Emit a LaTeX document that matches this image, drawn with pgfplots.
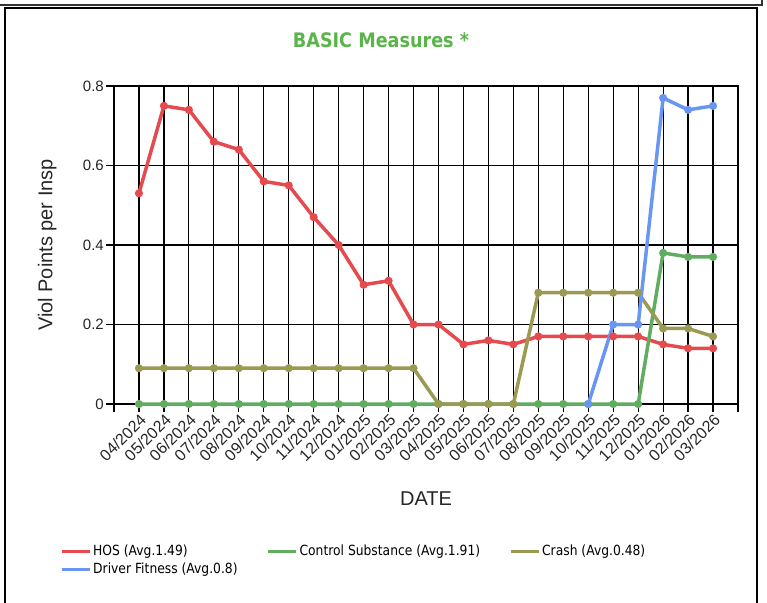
\documentclass[border=0pt]{standalone}
\usepackage{pgfplots}
\pgfplotsset{compat=1.18}
\usepackage{fontspec}
\setmainfont{Liberation Sans}
\newfontfamily\dvc[FakeStretch=0.88]{DejaVu Sans}
\definecolor{hos}{RGB}{229,75,78}
\definecolor{cs}{RGB}{96,172,96}
\definecolor{crash}{RGB}{155,154,82}
\definecolor{df}{RGB}{105,150,245}
\definecolor{tgreen}{RGB}{90,180,75}
\begin{document}
\begin{tikzpicture}
\useasboundingbox (0,0) rectangle (767pt,602pt);
\draw[line width=2pt, black!80] (0,596.5pt) -- (762pt,596.5pt) -- (762pt,603pt);
\draw[line width=1.5pt, black] (5pt,-10pt) -- (5pt,594pt) -- (757pt,594pt) -- (757pt,-10pt);
\node[text=tgreen, font=\dvc\bfseries\fontsize{20}{24}\selectfont] at (381pt,562pt) {BASIC Measures *};
\begin{axis}[
  at={(114pt,198pt)}, anchor=south west,
  scale only axis, width=624pt, height=318pt,
  xmin=-1, xmax=24, ymin=0, ymax=0.8,
  clip=false,
  xtick={-1,0,...,24},
  xticklabels={,04/2024,05/2024,06/2024,07/2024,08/2024,09/2024,10/2024,11/2024,12/2024,01/2025,02/2025,03/2025,04/2025,05/2025,06/2025,07/2025,08/2025,09/2025,10/2025,11/2025,12/2025,01/2026,02/2026,03/2026,},
  ytick={0,0.2,0.4,0.6,0.8},
  yticklabels={0,0.2,0.4,0.6,0.8},
  grid=major,
  major grid style={black, line width=1.2pt},
  axis line style={black, line width=1.2pt},
  tick style={black, line width=1.2pt},
  tick align=outside, major tick length=8pt,
  xtick pos=left, ytick pos=left,
  x tick label style={rotate=45, anchor=north east, font=\fontsize{16}{19}\selectfont, inner sep=0.5pt, text=black!85},
  y tick label style={font=\fontsize{15}{18}\selectfont, inner sep=2pt, text=black!85},
  ylabel={Viol Points per Insp},
  ylabel style={at={(axis description cs:-0.107,0.5)}, anchor=center, font=\fontsize{20}{24}\selectfont, text=black!85},
  xlabel={DATE},
  xlabel style={at={(axis description cs:0.5,-0.299)}, anchor=center, font=\fontsize{20}{24}\selectfont, text=black!85},
  legend columns=3,
  legend cell align=left,
  legend style={at={(axis description cs:-0.0865,-0.437)}, anchor=north west, draw=none, fill=none, inner sep=0pt,
    font=\dvc\fontsize{14}{17}\selectfont, text=black,
    /tikz/every even column/.append style={column sep=27pt}, row sep=2pt},
  legend image code/.code={\draw[#1, mark=none, line width=3pt] (0pt,0pt) -- (28pt,0pt);},
  every axis plot/.append style={line width=3.5pt, mark=*, mark size=2.2pt},
]
\addplot[color=hos, mark options={fill=hos}] table {
x y
0 0.53
1 0.75
2 0.74
3 0.66
4 0.64
5 0.56
6 0.55
7 0.47
8 0.40
9 0.30
10 0.31
11 0.20
12 0.20
13 0.15
14 0.16
15 0.15
16 0.17
17 0.17
18 0.17
19 0.17
20 0.17
21 0.15
22 0.14
23 0.14
};
\addlegendentry{HOS (Avg.1.49)}
\addplot[color=cs, mark options={fill=cs}] table {
x y
0 0
1 0
2 0
3 0
4 0
5 0
6 0
7 0
8 0
9 0
10 0
11 0
12 0
13 0
14 0
15 0
16 0
17 0
18 0
19 0
20 0
21 0.38
22 0.37
23 0.37
};
\addlegendentry{Control Substance (Avg.1.91)}
\addplot[color=crash, mark options={fill=crash}] table {
x y
0 0.09
1 0.09
2 0.09
3 0.09
4 0.09
5 0.09
6 0.09
7 0.09
8 0.09
9 0.09
10 0.09
11 0.09
12 0
13 0
14 0
15 0
16 0.28
17 0.28
18 0.28
19 0.28
20 0.28
21 0.19
22 0.19
23 0.17
};
\addlegendentry{Crash (Avg.0.48)}
\addplot[color=df, mark options={fill=df}] table {
x y
18 0
19 0.20
20 0.20
21 0.77
22 0.74
23 0.75
};
\addlegendentry{Driver Fitness (Avg.0.8)}
\end{axis}
\end{tikzpicture}
\end{document}
